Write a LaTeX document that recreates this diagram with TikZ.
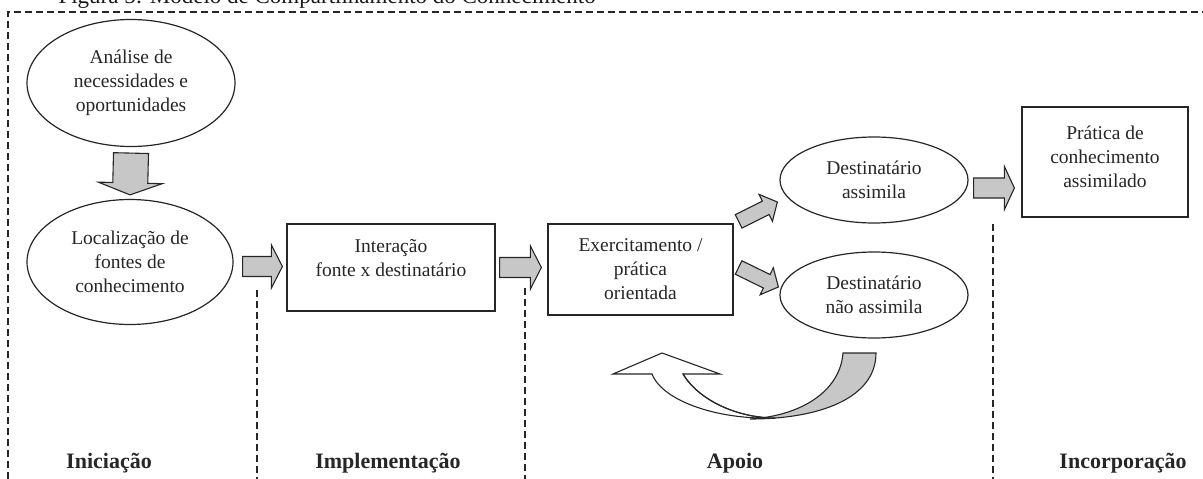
\documentclass[tikz,border=0pt]{standalone}
\usepackage{fontspec}
\setmainfont{Liberation Serif}
\usetikzlibrary{shapes.geometric,calc}

\tikzset{
  ellip/.style={ellipse, draw=black!85, line width=1.2pt, inner sep=0pt, align=center,
    text=black!85, font=\fontsize{19.5}{24}\selectfont},
  box/.style={rectangle, draw=black!85, line width=1.2pt, inner sep=0pt, align=center,
    text=black!85, font=\fontsize{19.5}{24}\selectfont},
  fat/.style={draw=black!85, fill=black!22, line width=1.1pt, line join=miter},
  sep/.style={black!85, line width=1.2pt, dash pattern=on 7pt off 4pt},
  phase/.style={anchor=base, text=black!85, font=\fontsize{22}{26}\selectfont\bfseries}
}

% block arrow: shaft half width, head half width, head length, from, to
\newcommand{\fatarrow}[5]{%
  \path (#4) coordinate (fa-s) (#5) coordinate (fa-e);
  \pgfpointdiff{\pgfpointanchor{fa-s}{center}}{\pgfpointanchor{fa-e}{center}}%
  \pgfgetlastxy{\fadx}{\fady}%
  \pgfmathsetmacro{\faang}{atan2(\fady,\fadx)}%
  \pgfmathsetmacro{\falen}{veclen(\fadx,\fady)}%
  \begin{scope}[shift={(fa-s)}, rotate=\faang, x=1pt, y=1pt]
    \draw[fat] (0,#1) -- (\falen-#3,#1) -- (\falen-#3,#2) -- (\falen,0)
      -- (\falen-#3,-#2) -- (\falen-#3,-#1) -- (0,-#1) -- cycle;
  \end{scope}}

\begin{document}
\begin{tikzpicture}[x=1pt, y=-1pt]
  \useasboundingbox (0,0) rectangle (1203,479);
  \clip (0,0) rectangle (1203,479);

  \node[anchor=base west, text=black!90, font=\fontsize{23}{28}\selectfont] (tit) at (55,3)
    {Figura 5: Modelo de Compartilhamento do Conhecimento};
  \draw[sep] (8,479) -- (8,12) -- (1203,12);

  % stages
  \node[ellip, minimum width=208pt, minimum height=127pt] (ana) at (131,83)
    {Análise de\\necessidades e\\oportunidades};
  \node[ellip, minimum width=206pt, minimum height=125pt] (loc) at (130,262)
    {Localização de\\fontes de\\conhecimento};
  \node[box, minimum width=208pt, minimum height=87pt] (int) at (391,267.5)
    {Interação\\fonte x destinatário\\[-4pt]};
  \node[box, minimum width=185pt, minimum height=91pt] (exe) at (640.5,269.5)
    {Exercitamento /\\prática\\orientada};
  \node[ellip, minimum width=188pt, minimum height=86pt] (ass) at (874,180)
    {Destinatário\\assimila};
  \node[ellip, minimum width=188pt, minimum height=86pt] (nas) at (874,295)
    {Destinatário\\não assimila};
  \node[box, minimum width=166pt, minimum height=110pt] (pra) at (1105,162)
    {Prática de\\conhecimento\\assimilado\\[-14pt]};

  % block arrows
  \fatarrow{17.5}{32}{12}{$(ana.south)+(0,6)$}{$(loc.north)+(0,-4)$}
  \fatarrow{10}{21.5}{11}{$(loc.east |- int.west)+(9,-1)$}{$(int.west)+(-4,-1)$}
  \fatarrow{10}{21.5}{11}{$(int.east)+(4,0)$}{$(exe.west |- int.east)+(-6,0)$}
  \fatarrow{7.5}{15}{13}{$(exe.north east)+(5,-2)$}{$(ass.west)+(-2,22)$}
  \fatarrow{7.5}{15}{13}{$(exe.east)+(5,-2)$}{$(nas.west)+(-1,-8)$}
  \fatarrow{10}{21.5}{10}{$(ass.east)+(5,8)$}{$(pra.west)+(-7,26)$}

  % turning arrow below
  \draw[fat, fill=white] (652,374) -- (613,374) -- (662,353) -- (720,374) -- (683,374)
    .. controls (700,402) and (740,418) .. (775,418)
    .. controls (720,420) and (663,402) .. (652,374) -- cycle;
  \draw[fat] (843,353) -- (876,353) .. controls (876,398) and (820,419) .. (750,419)
    .. controls (800,416) and (840,392) .. (843,353) -- cycle;
  \draw[fat, fill=none] (683,374) .. controls (700,402) and (740,418) .. (775,418);

  % phase borders
  \draw[sep] (257,290) -- (257,479);
  \draw[sep] (525,288) -- (525,479);
  \draw[sep] (993,224) -- (993,479);

  \node[phase] (ini) at (109,468) {Iniciação};
  \node[phase] (imp) at (388,468) {Implementação};
  \node[phase] (apo) at (735,468) {Apoio};
  \node[phase] (inc) at (1123,468) {Incorporação};
\end{tikzpicture}
\end{document}
